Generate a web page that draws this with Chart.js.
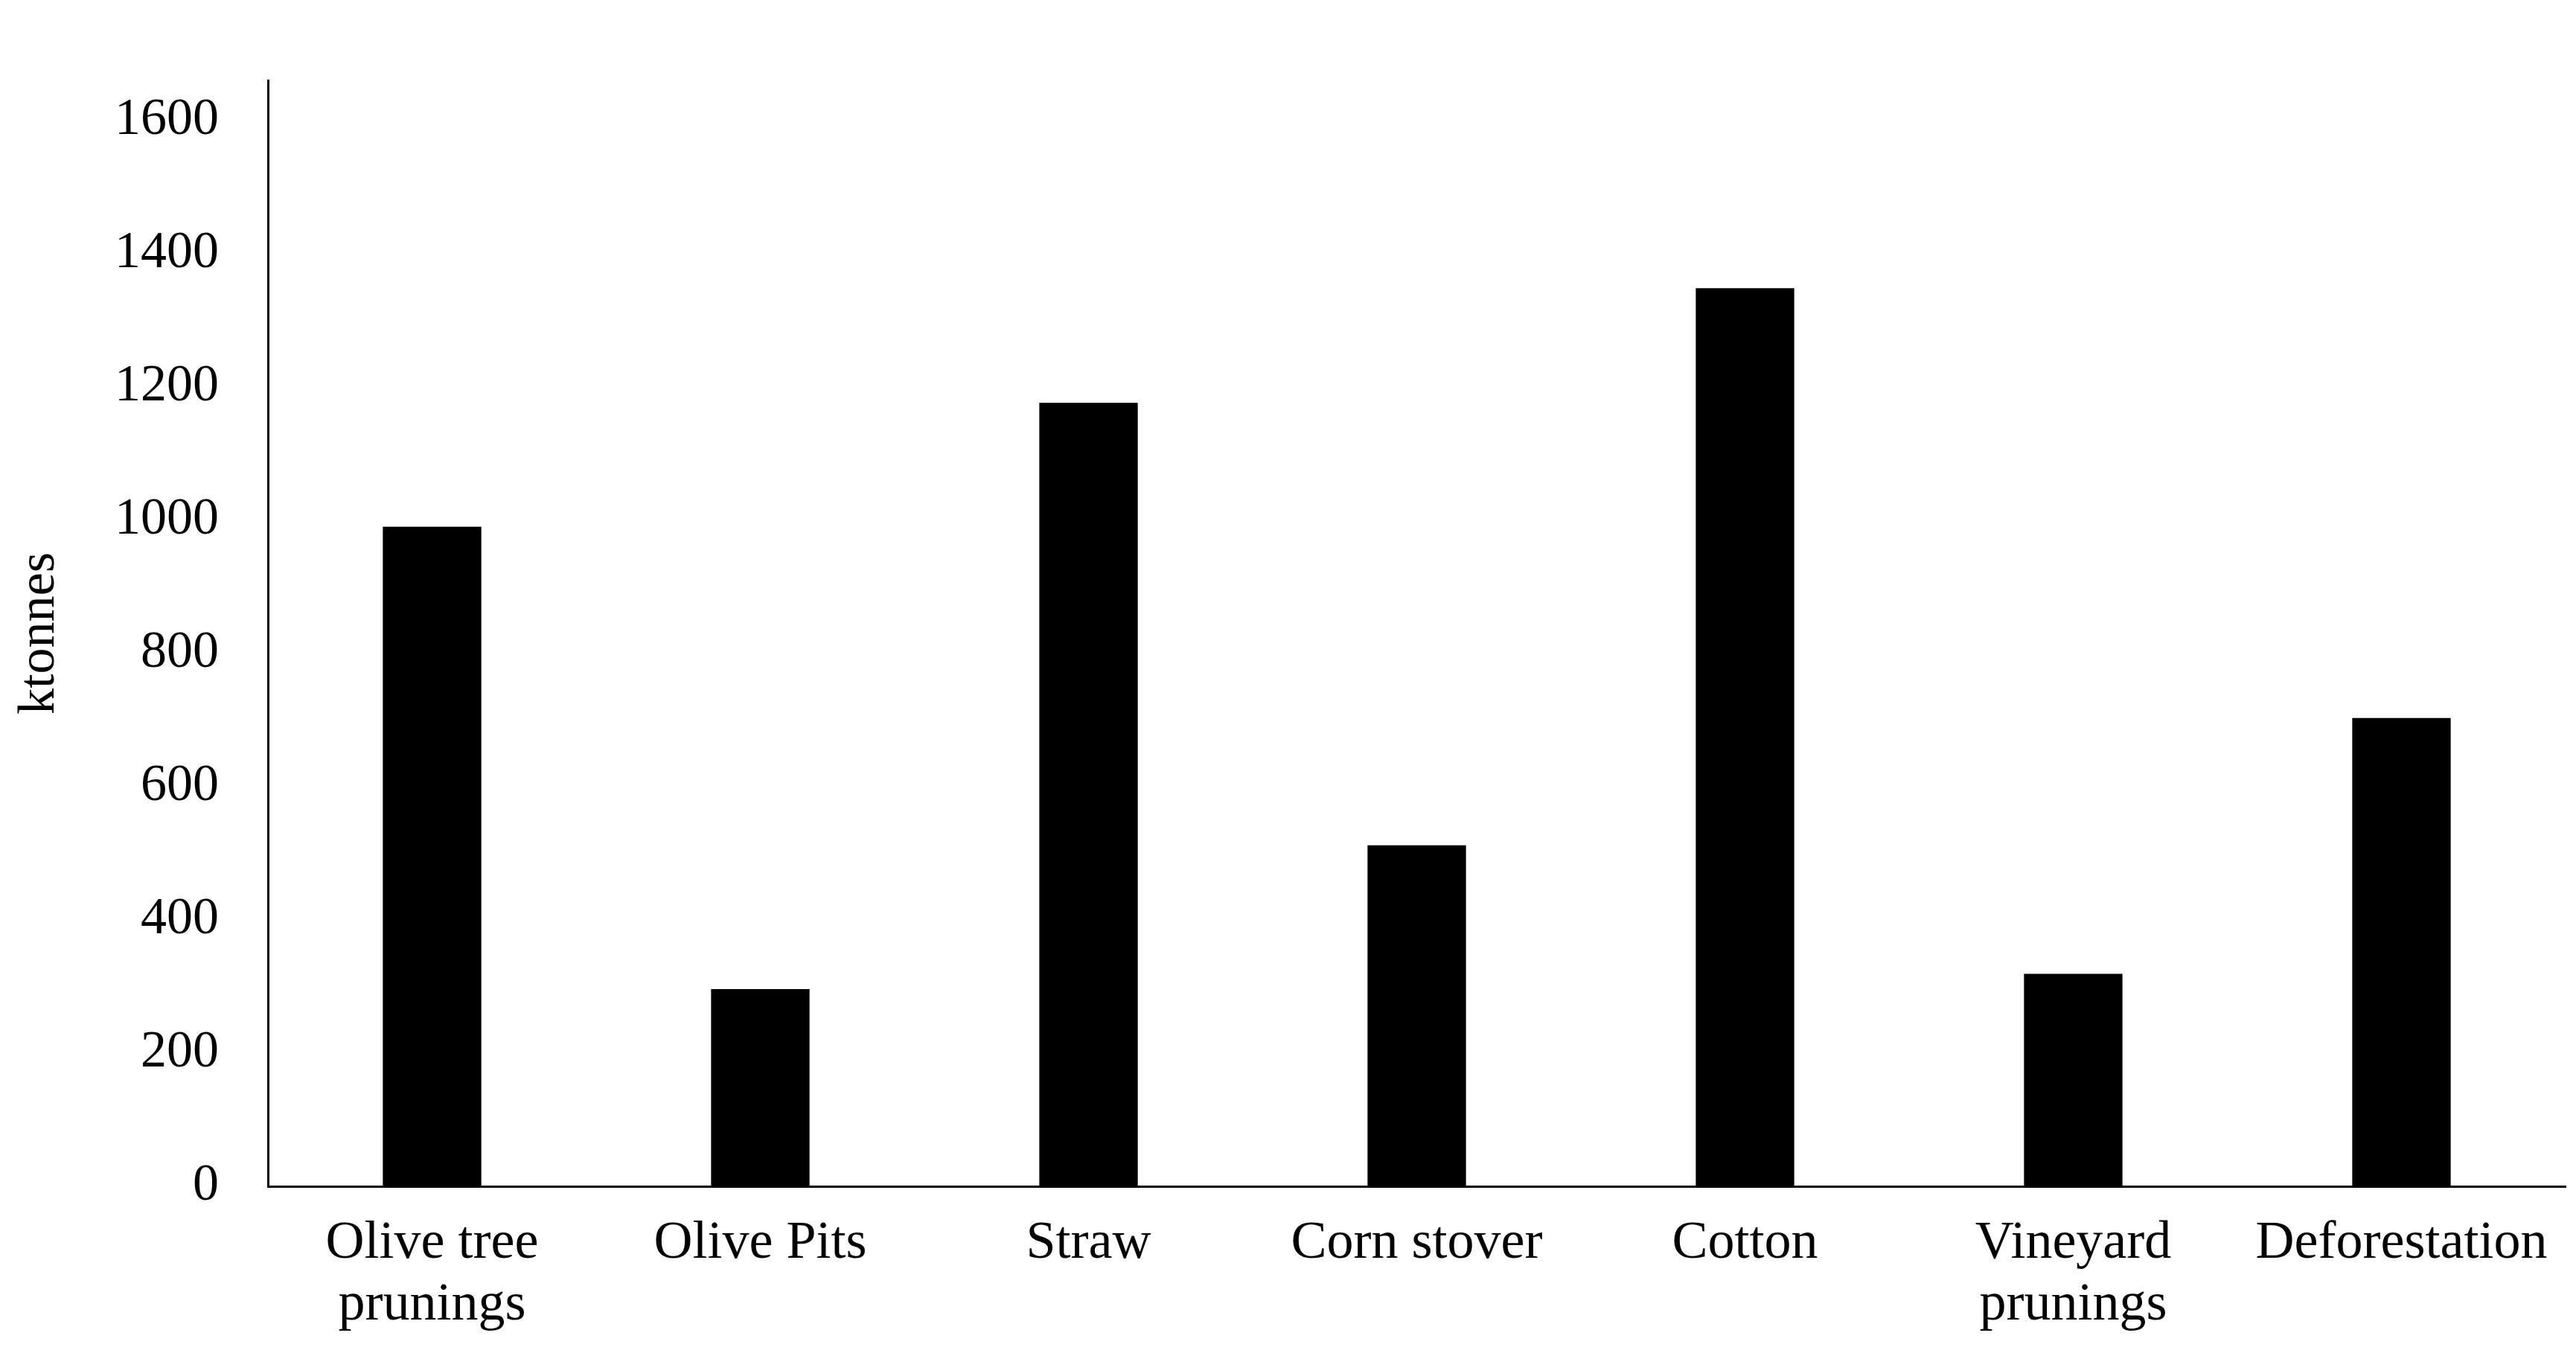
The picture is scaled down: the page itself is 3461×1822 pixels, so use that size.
<!DOCTYPE html>
<html>
<head>
<meta charset="utf-8">
<script src="https://cdn.jsdelivr.net/npm/chart.js@4"></script>
<style>
  html, body { margin: 0; padding: 0; background: #fff; }
  #wrap { width: 3461px; height: 1822px; }
</style>
</head>
<body>
<div id="wrap"><canvas id="barChart"></canvas></div>
<script>
// data
const categories = [['Olive tree', 'prunings'], 'Olive Pits', 'Straw', 'Corn stover', 'Cotton', ['Vineyard', 'prunings'], 'Deforestation'];
const ktonnes = [990, 296, 1176, 512, 1348, 319, 703];
const yTicks = [0, 200, 400, 600, 800, 1000, 1200, 1400, 1600];

const serif = 'Liberation Serif';

var ctx = document.getElementById('barChart').getContext('2d');
var barChart = new Chart(ctx, {
    type: 'bar',
    data: {
        labels: categories,
        datasets: [{
            label: 'ktonnes',
            data: ktonnes,
            backgroundColor: '#000',
            barPercentage: 0.3,
            categoryPercentage: 1
        }]
    },
    options: {
        responsive: true,
        maintainAspectRatio: false,
        animation: false,
        layout: { padding: { top: -40, right: 14, left: 12, bottom: 0 } },
        plugins: { legend: { display: false }, tooltip: { enabled: false } },
        scales: {
            x: {
                grid: { display: false, drawTicks: false },
                border: { color: '#000', width: 3 },
                ticks: { color: '#000', font: { family: serif, size: 72, lineHeight: 1.15 }, padding: 36, maxRotation: 0, autoSkip: false },
                afterFit: function (s) { s.height = 228; }
            },
            y: {
                min: 0,
                max: 1660,
                afterBuildTicks: function (s) { s.ticks = yTicks.map(v => ({ value: v })); },
                grid: { display: false, drawTicks: false },
                border: { color: '#000', width: 3 },
                ticks: { color: '#000', font: { family: serif, size: 70 }, padding: 66, callback: v => String(v) },
                title: { display: true, text: 'ktonnes', color: '#000', font: { family: serif, size: 70 }, padding: 0 },
                afterFit: function (s) { s.width = 348; }
            }
        }
    }
});
</script>
</body>
</html>
